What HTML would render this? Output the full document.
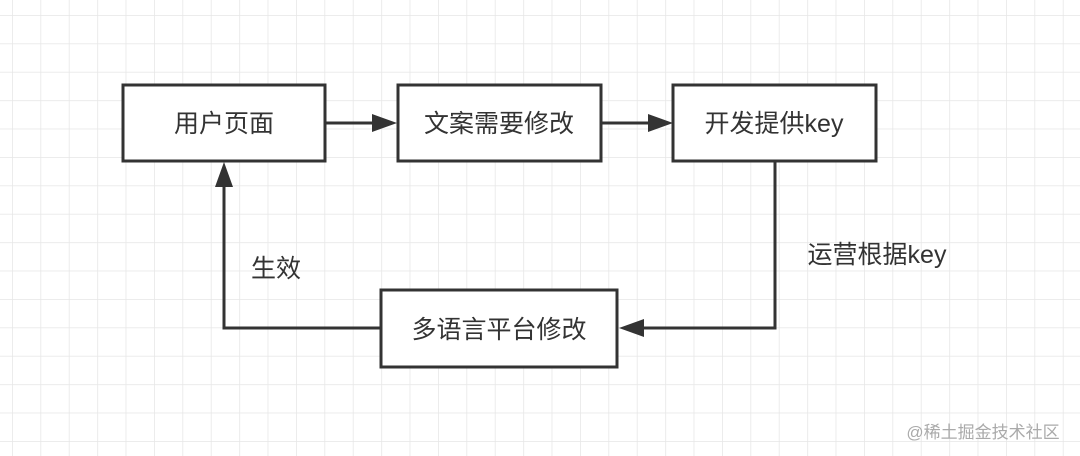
<!DOCTYPE html>
<html><head><meta charset="utf-8"><style>
html,body{margin:0;padding:0;background:#fff;}
svg{display:block;}
text{font-family:"Liberation Sans","Noto Sans CJK SC",sans-serif;fill:#333;}
</style></head><body>
<svg width="1080" height="456" viewBox="0 0 1080 456" xmlns="http://www.w3.org/2000/svg">
<defs>
<pattern id="g" x="12" y="15" width="28.4" height="28.4" patternUnits="userSpaceOnUse">
<path d="M0 0H28.4M0 0V28.4" stroke="#e6e6e6" stroke-width="1.5" fill="none"/>
</pattern>
</defs>
<rect width="1080" height="456" fill="url(#g)"/>
<g stroke="#333" stroke-width="3" fill="#fff">
<rect x="123" y="85" width="202" height="76"/>
<rect x="398" y="85" width="203" height="76"/>
<rect x="673" y="85" width="203" height="76"/>
<rect x="381" y="290" width="236" height="77"/>
</g>
<g stroke="#333" stroke-width="3" fill="none">
<path d="M325 123H375"/>
<path d="M601 123H650"/>
<path d="M775 161V328H642"/>
<path d="M381 328H224V185"/>
</g>
<g fill="#333">
<polygon points="397,123 372,114 372,132"/>
<polygon points="673,123 648,114 648,132"/>
<polygon points="619,328 644,319 644,337"/>
<polygon points="224,162 215,187 233,187"/>
</g>
<g font-size="25" text-anchor="middle">
<text x="224" y="132">用户页面</text>
<text x="499" y="132">文案需要修改</text>
<text x="774" y="132">开发提供key</text>
<text x="499" y="338">多语言平台修改</text>
<text x="276" y="277">生效</text>
<text x="877" y="263">运营根据key</text>
</g>
<text x="983" y="438" font-size="17" text-anchor="middle" style="fill:#aaa">@稀土掘金技术社区</text>
</svg>
</body></html>
